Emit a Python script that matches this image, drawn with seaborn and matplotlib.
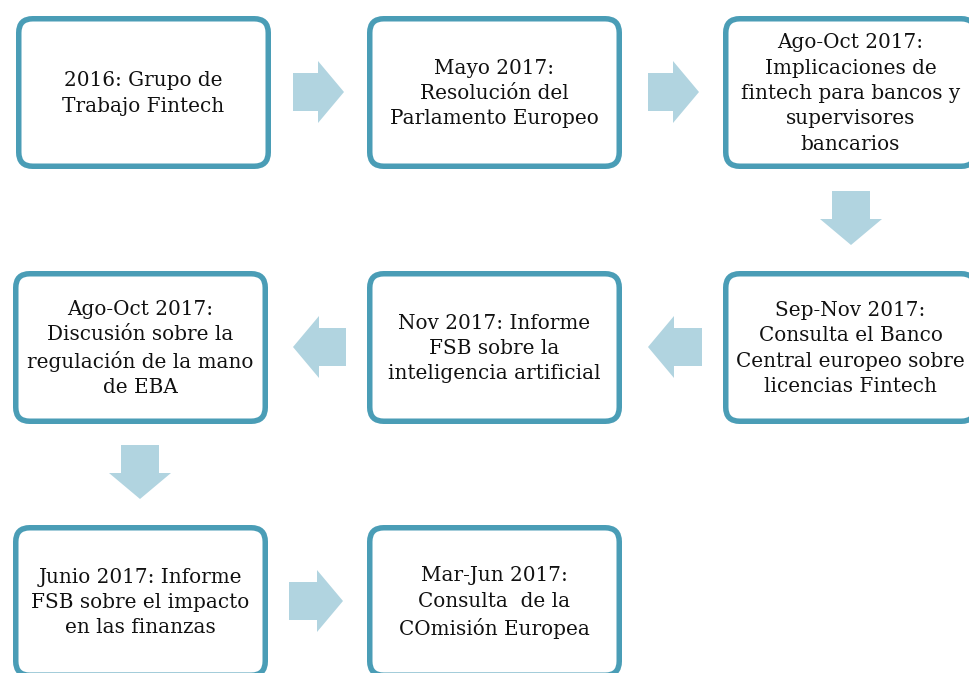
import matplotlib
matplotlib.use("Agg")
import matplotlib.pyplot as plt
from matplotlib.patches import FancyBboxPatch, Polygon
import seaborn as sns

# ---- content ----
labels = [
    "2016: Grupo de\nTrabajo Fintech",
    "Mayo 2017:\nResolución del\nParlamento Europeo",
    "Ago-Oct 2017:\nImplicaciones de\nfintech para bancos y\nsupervisores\nbancarios",
    "Sep-Nov 2017:\nConsulta el Banco\nCentral europeo sobre\nlicencias Fintech",
    "Nov 2017: Informe\nFSB sobre la\ninteligencia artificial",
    "Ago-Oct 2017:\nDiscusión sobre la\nregulación de la mano\nde EBA",
    "Junio 2017: Informe\nFSB sobre el impacto\nen las finanzas",
    "Mar-Jun 2017:\nConsulta  de la\nCOmisión Europea",
]

# ---- layout (pixels, origin top-left) ----
box_left = [16, 367, 723, 723, 367, 13, 13, 367]
box_top = [16, 16, 16, 271, 271, 271, 525, 525]
BOX_W, BOX_H = 255, 153
# arrows: (tail_x, tail_y, tip_x, tip_y)
arrows = [
    (293, 92, 344, 92),
    (648, 92, 699, 92),
    (851, 191, 851, 245),
    (702, 347, 648, 347),
    (346, 347, 293, 347),
    (140, 445, 140, 499),
    (289, 601, 343, 601),
]

BORDER = "#4a9db6"
ARROW = "#b1d4e0"

sns.set_theme(style="white")
plt.rcParams["font.family"] = ["DejaVu Serif"]

fig = plt.figure(figsize=(9.70, 6.73), dpi=100)
ax = fig.add_axes([0, 0, 1, 1])
ax.set_xlim(0, 970)
ax.set_ylim(673, 0)
ax.axis("off")

lw_px = 5.5
for lab, x, y in zip(labels, box_left, box_top):
    inset = lw_px / 2
    p = FancyBboxPatch((x + inset, y + inset), BOX_W - lw_px, BOX_H - lw_px,
                       boxstyle="round,pad=0,rounding_size=14",
                       fc="white", ec=BORDER, lw=lw_px * 72 / 100)
    ax.add_patch(p)
    ax.text(x + BOX_W / 2, y + BOX_H / 2 + 1, lab, ha="center", va="center",
            fontsize=14.4, color="#111111", linespacing=1.42)

SHAFT_HW, HEAD_HW, HEAD_L = 19, 31, 26
for tx, ty, hx, hy in arrows:
    dx, dy = hx - tx, hy - ty
    L = (dx ** 2 + dy ** 2) ** 0.5
    ux, uy = dx / L, dy / L
    px, py = -uy, ux
    bx, by = hx - ux * HEAD_L, hy - uy * HEAD_L
    pts = [
        (tx + px * SHAFT_HW, ty + py * SHAFT_HW),
        (bx + px * SHAFT_HW, by + py * SHAFT_HW),
        (bx + px * HEAD_HW, by + py * HEAD_HW),
        (hx, hy),
        (bx - px * HEAD_HW, by - py * HEAD_HW),
        (bx - px * SHAFT_HW, by - py * SHAFT_HW),
        (tx - px * SHAFT_HW, ty - py * SHAFT_HW),
    ]
    ax.add_patch(Polygon(pts, closed=True, fc=ARROW, ec="none"))

fig.savefig("out.png", dpi=100)
